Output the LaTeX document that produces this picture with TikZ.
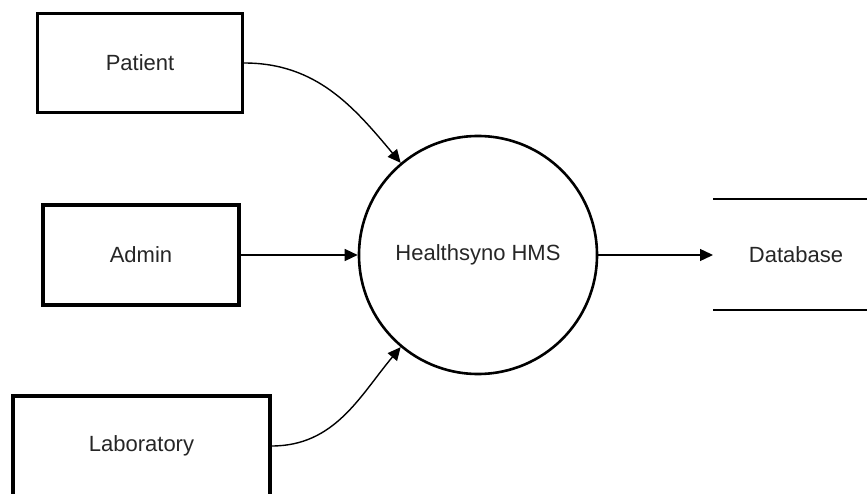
\documentclass[tikz,border=0pt]{standalone}
\usepackage{fontspec}
\setmainfont{Liberation Sans}
\usetikzlibrary{arrows.meta}

\begin{document}
\begin{tikzpicture}[x=1pt, y=-1pt,
  entity/.style={draw=black, line width=3.2pt, fill=white, inner sep=0pt,
                 font=\fontsize{22}{26}\selectfont, text=black!85},
  process/.style={circle, draw=black, line width=2.6pt, fill=white,
                  minimum size=238pt, inner sep=0pt,
                  font=\fontsize{22}{26}\selectfont, text=black!85},
  store/.style={inner sep=0pt, font=\fontsize{22}{26}\selectfont, text=black!85},
  flow/.style={line width=1.4pt, -{Triangle[length=13pt, width=12pt]}},
  rule/.style={line width=1.4pt}
]
\useasboundingbox (0,0) rectangle (867,494);
\clip (0,0) rectangle (867,494);

% external entities
\node[entity, minimum width=205pt, minimum height=99pt] (patient) at (140,63) {Patient};
\node[entity, minimum width=196pt, minimum height=100pt] (admin) at (141,255) {Admin};
\node[entity, minimum width=257pt, minimum height=100pt] (lab) at (141.5,446) {Laboratory};

% central process
\node[process] (hms) at (478,255) {Healthsyno HMS};

% data store
\coordinate (dbtl) at (713,199);
\coordinate (dbtr) at (867,199);
\coordinate (dbbl) at (713,310);
\coordinate (dbbr) at (867,310);
\draw[rule] (dbtl) -- (dbtr);
\draw[rule] (dbbl) -- (dbbr);
\node[store] (db) at (796,255) {Database};
\coordinate (dbin) at (713,255);

% data flows
\draw[flow] (patient.east) to[out=0, in=130] (hms.130);
\draw[flow] (admin.east) -- (hms.west);
\draw[flow] (lab.east) to[out=0, in=230] (hms.230);
\draw[flow] (hms.east) -- (dbin);
\end{tikzpicture}
\end{document}
